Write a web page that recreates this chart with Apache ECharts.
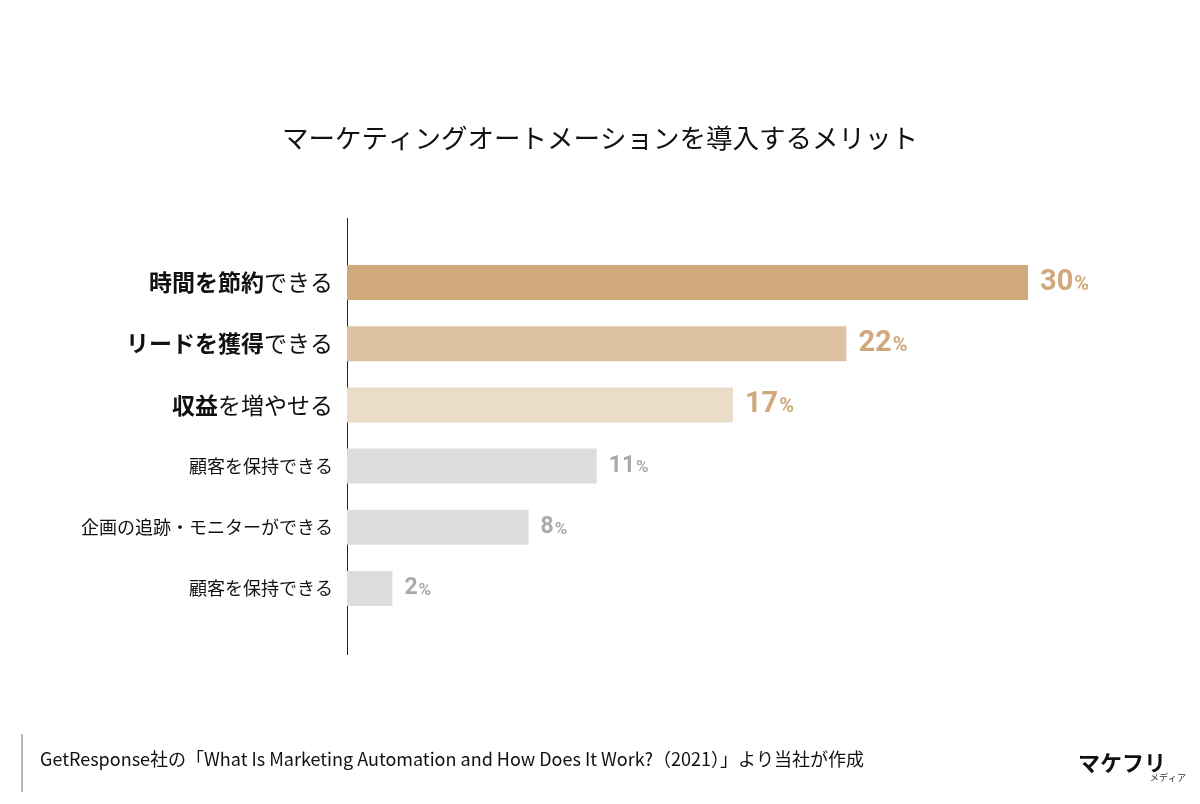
<!DOCTYPE html>
<html><head><meta charset="utf-8">
<script src="https://cdn.jsdelivr.net/npm/echarts@6/dist/echarts.min.js"></script>
<style>html,body{margin:0;background:#fff}#c{width:1200px;height:804px}</style>
</head><body><div id="c"></div>
<script>
const boldParts = ['時間を節約', 'リードを獲得', '収益', '', '', ''];
const normalParts = ['できる', 'できる', 'を増やせる', '顧客を保持できる', '企画の追跡・モニターができる', '顧客を保持できる'];
const values = [30, 22, 17, 11, 8, 2];
const barColors = ['#CFA97B', '#DDC1A1', '#EBDCCA', '#DDDDDD', '#DDDDDD', '#DDDDDD'];
const labelColors = ['#CFA97B', '#CFA97B', '#CFA97B', '#AAAAAA', '#AAAAAA', '#AAAAAA'];
const highlight = [true, true, true, false, false, false];
const cats = boldParts.map((b, i) => b + normalParts[i]);
const font = '"Noto Sans CJK JP", sans-serif';

const chart = echarts.init(document.getElementById('c'));
chart.setOption({
  animation: false,
  title: { text: 'マーケティングオートメーションを導入するメリット', left: 'center', top: 120,
    textStyle: { fontFamily: font, fontSize: 26.5, fontWeight: 'normal', color: '#111' } },
  grid: { left: 347, right: 172, top: 252, height: 367 },
  xAxis: { type: 'value', min: 0, max: 30, show: false },
  yAxis: { type: 'category', inverse: true, data: cats,
    axisLine: { show: false }, axisTick: { show: false },
    axisLabel: { margin: 14,
      formatter: (v, i) => {
        if (highlight[i]) return (boldParts[i] ? '{b|' + boldParts[i] + '}' : '') + '{n|' + normalParts[i] + '}';
        return '{s|' + normalParts[i] + '}';
      },
      rich: {
        b: { fontFamily: font, fontSize: 23, fontWeight: 'bold', color: '#111' },
        n: { fontFamily: font, fontSize: 23, color: '#111' },
        s: { fontFamily: font, fontSize: 18, color: '#111' }
      } } },
  series: [{ type: 'bar', barWidth: 35,
    data: values.map((v, i) => ({ value: v, itemStyle: { color: barColors[i] },
      label: { rich: { v: { fontFamily: 'Roboto, sans-serif', fontSize: highlight[i] ? 29 : 23, fontWeight: 'bold', color: labelColors[i] },
                        p: { fontFamily: 'Roboto, sans-serif', fontSize: highlight[i] ? 20 : 17, fontWeight: 'bold', color: labelColors[i], padding: [4,0,0,1] } } } })),
    label: { show: true, position: 'right', distance: 12, formatter: p => '{v|' + p.value + '}{p|%}' } }],
  graphic: [
    { type: 'line', shape: { x1: 347.5, y1: 218, x2: 347.5, y2: 655 }, style: { stroke: '#222', lineWidth: 1 } },
    { type: 'rect', shape: { x: 21, y: 734, width: 2, height: 58 }, style: { fill: '#bbb' } },
    { type: 'text', left: 40, top: 750, style: { text: 'GetResponse社の「What Is Marketing Automation and How Does It Work?（2021）」より当社が作成', font: '18px ' + font, fill: '#111' } },
    { type: 'text', left: 1078, top: 752, style: { text: 'マケフリ', font: 'bold 22px ' + font, fill: '#111' } },
    { type: 'text', left: 1150, top: 773, style: { text: 'メディア', font: '9px ' + font, fill: '#333' } }
  ]
});
</script></body></html>
